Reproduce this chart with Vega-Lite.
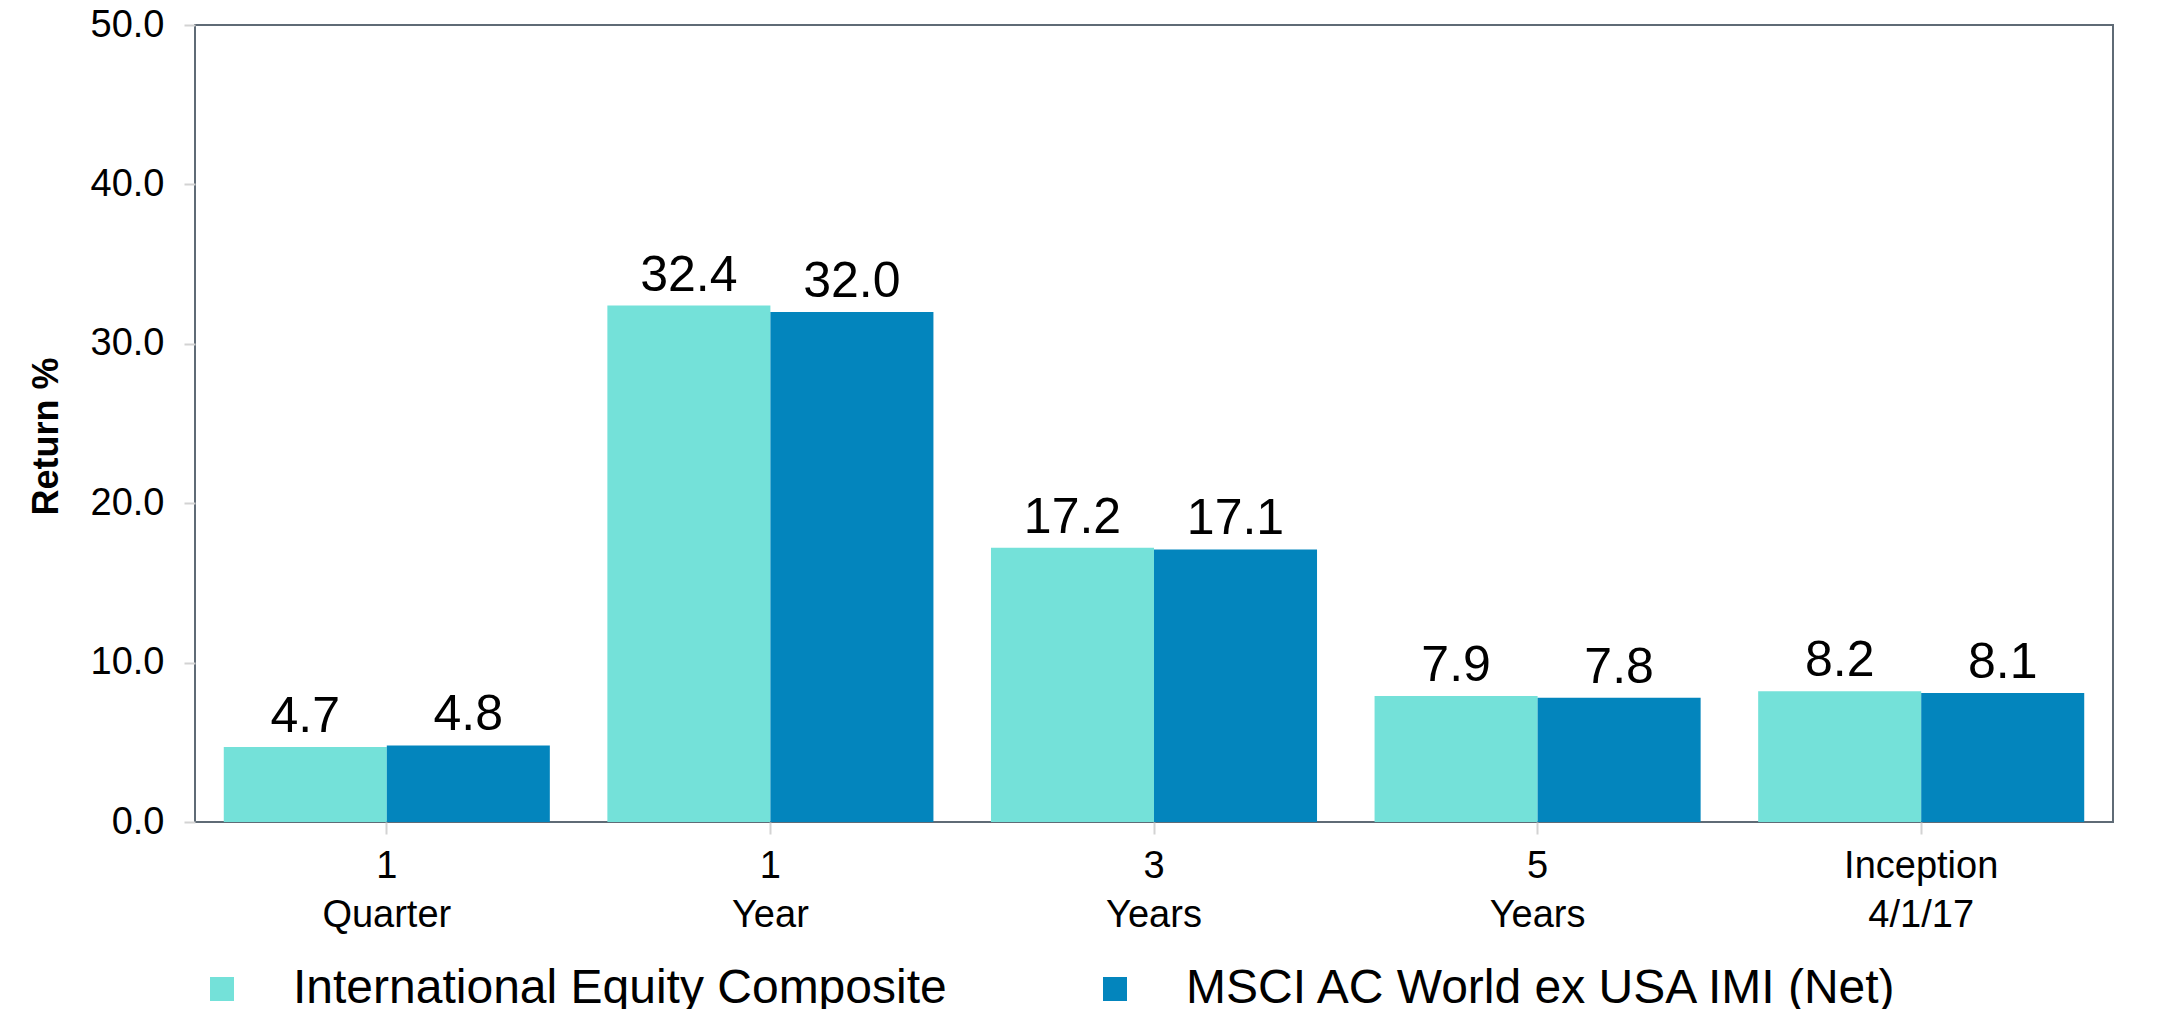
{
  "$schema": "https://vega.github.io/schema/vega-lite/v6.json",
  "width": 1918,
  "height": 797,
  "autosize": {"type": "none"},
  "padding": {"left": 195, "top": 25, "right": 48, "bottom": 187},
  "background": "white",
  "config": {
    "font": "Liberation Sans",
    "view": {"stroke": "#5f6b76", "strokeWidth": 2},
    "axis": {"labelColor": "black", "titleColor": "black", "domain": false, "grid": false, "tickColor": "#d3d3d3", "tickWidth": 2},
    "legend": {"labelColor": "black"}
  },
  "data": {
    "values": [
      {"period": "1|Quarter", "series": "International Equity Composite", "value": 4.7},
      {"period": "1|Quarter", "series": "MSCI AC World ex USA IMI (Net)", "value": 4.8},
      {"period": "1|Year", "series": "International Equity Composite", "value": 32.4},
      {"period": "1|Year", "series": "MSCI AC World ex USA IMI (Net)", "value": 32.0},
      {"period": "3|Years", "series": "International Equity Composite", "value": 17.2},
      {"period": "3|Years", "series": "MSCI AC World ex USA IMI (Net)", "value": 17.1},
      {"period": "5|Years", "series": "International Equity Composite", "value": 7.9},
      {"period": "5|Years", "series": "MSCI AC World ex USA IMI (Net)", "value": 7.8},
      {"period": "Inception|4/1/17", "series": "International Equity Composite", "value": 8.2},
      {"period": "Inception|4/1/17", "series": "MSCI AC World ex USA IMI (Net)", "value": 8.1}
    ]
  },
  "encoding": {
    "x": {
      "field": "period",
      "type": "nominal",
      "sort": ["1|Quarter", "1|Year", "3|Years", "5|Years", "Inception|4/1/17"],
      "scale": {"paddingInner": 0.15, "paddingOuter": 0.075},
      "axis": {"title": null, "labelAngle": 0, "labelExpr": "split(datum.label, '|')", "labelFontSize": 38, "labelLineHeight": 49, "tickSize": 12, "labelPadding": 13}
    },
    "xOffset": {"field": "series", "type": "nominal", "sort": ["International Equity Composite", "MSCI AC World ex USA IMI (Net)"]},
    "y": {
      "field": "value",
      "type": "quantitative",
      "scale": {"domain": [0, 50]},
      "axis": {"title": "Return %", "titleFontSize": 36, "titleFontWeight": "bold", "titleY": 411, "labelFontSize": 38, "format": ".1f", "values": [0, 10, 20, 30, 40, 50], "tickSize": 11, "labelPadding": 20, "titlePadding": 25}
    }
  },
  "layer": [
    {
      "mark": {"type": "bar"},
      "encoding": {
        "color": {
          "field": "series",
          "type": "nominal",
          "sort": ["International Equity Composite", "MSCI AC World ex USA IMI (Net)"],
          "scale": {"range": ["#74E1D9", "#0385BD"]},
          "legend": {"title": null, "orient": "none", "legendX": 3, "legendY": 940, "direction": "horizontal", "symbolType": "square", "symbolSize": 576, "labelFontSize": 48, "labelOffset": 47, "columnPadding": 144, "labelLimit": 1000, "symbolStrokeWidth": 0, "padding": 0}
        }
      }
    },
    {
      "mark": {"type": "text", "dy": -15, "baseline": "alphabetic", "fontSize": 50, "color": "black"},
      "encoding": {"text": {"field": "value", "type": "quantitative", "format": ".1f"}}
    }
  ]
}
